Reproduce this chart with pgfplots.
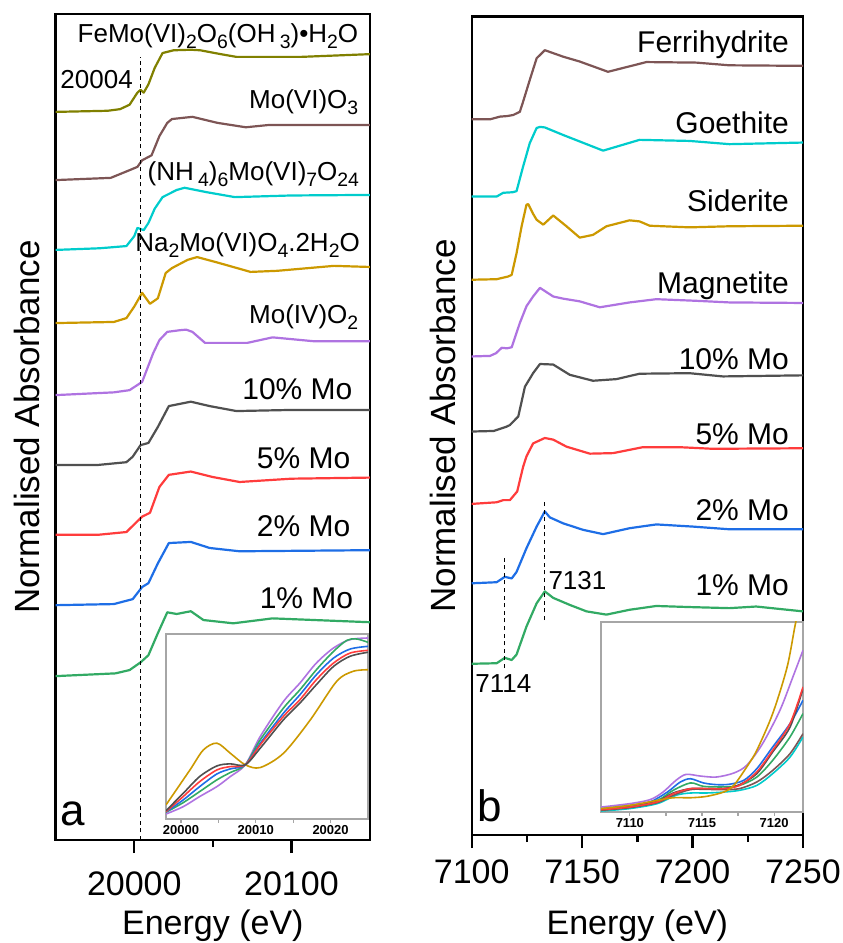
\documentclass[border=0pt]{standalone}
\usepackage{fontspec}
\setmainfont{Liberation Sans}
\usepackage{pgfplots}
\pgfplotsset{compat=1.18}
\definecolor{cOlive}{RGB}{128,128,0}
\definecolor{cBrown}{RGB}{125,85,85}
\definecolor{cCyan}{RGB}{0,204,204}
\definecolor{cGold}{RGB}{204,153,0}
\definecolor{cPurple}{RGB}{175,115,225}
\definecolor{cGrey}{RGB}{80,80,80}
\definecolor{cRed}{RGB}{255,60,60}
\definecolor{cBlue}{RGB}{30,110,230}
\definecolor{cGreen}{RGB}{50,170,100}
\newcommand{\s}[1]{\raisebox{-0.45ex}{\fontsize{9.7}{10}\selectfont #1}}
\newcommand{\lab}{\fontsize{15}{17}\selectfont}
\newcommand{\chem}{\fontsize{13}{15}\selectfont}
\pgfplotsset{
  mainax/.style={scale only axis, tick align=outside, xtick pos=bottom,
    ytick=\empty, axis line style={line width=1.2pt},
    major tick length=6.5pt, minor tick length=3.5pt,
    tick style={black, line width=1.2pt}, minor x tick num=1,
    scaled x ticks=false,
    /pgf/number format/assume math mode=true, /pgf/number format/1000 sep={},
    xlabel style={font=\fontsize{17}{20}\selectfont},
    ylabel style={font=\fontsize{17.5}{20}\selectfont}},
  cur/.style={line width=1.1pt, line join=round},
  inax/.style={scale only axis, tick align=outside, xtick pos=bottom,
    ytick=\empty, axis line style={line width=0.9pt, color=black!35},
    major tick length=2pt, minor tick length=2pt,
    tick style={black!35, line width=0.6pt}, minor x tick num=1,
    scaled x ticks=false,
    /pgf/number format/assume math mode=true, /pgf/number format/1000 sep={},
    xticklabel style={font=\fontsize{6.5}{7}\selectfont\bfseries, inner sep=1pt},
    axis background/.style={fill=white}},
  icur/.style={line width=0.8pt, smooth, tension=0.5},
  dsh/.style={black, line width=0.6pt, dash pattern=on 2pt off 1.8pt},
}
\begin{document}
\begin{tikzpicture}
% ===================== panel a =====================
\begin{axis}[mainax, at={(27.85pt,51.5pt)}, anchor=south west,
  width=157.15pt, height=413pt,
  xmin=19950, xmax=20150, ymin=0, ymax=15.02,
  xtick={20000,20100},
  xticklabel style={font=\fontsize{17}{20}\selectfont, anchor=base, yshift=-21pt},
  xlabel={Energy (eV)}, ylabel={Normalised Absorbance},
  every axis x label/.append style={at={(axis description cs:0.5,-0.1150)}, anchor=base},
  every axis y label/.append style={at={(axis description cs:-0.0916,0.5)}, anchor=center},
]
\addplot[cur, cOlive] table[y expr=\thisrowno{1}+13.24] {
19950 0
19983 0.02
19991 0.05
19997 0.13
20002 0.35
20004 0.40
20006 0.35
20009 0.50
20013 0.80
20018 1.07
20025 1.12
20036 1.13
20042 1.12
20055 1.05
20065 1.00
20106 1.00
20150 1.05
};
\addplot[cur, cBrown] table[y expr=\thisrowno{1}+12.0] {
19950 0
19985 0.04
19997 0.18
20002 0.24
20005 0.36
20011 0.45
20016 0.80
20021 1.04
20024 1.11
20037 1.15
20053 1.04
20071 0.96
20085 1.00
20150 1.00
};
\addplot[cur, cCyan] table[y expr=\thisrowno{1}+10.73] {
19950 0
19978 0.03
19995 0.07
20000 0.25
20002 0.40
20006 0.36
20009 0.49
20013 0.75
20018 0.96
20027 1.09
20032 1.13
20046 1.05
20064 0.96
20100 0.99
20150 1.00
};
\addplot[cur, cGold] table[y expr=\thisrowno{1}+9.4] {
19950 0
19987 0.02
19995 0.09
20000 0.30
20005 0.55
20010 0.35
20015 0.45
20020 0.91
20024 1.00
20034 1.15
20040 1.20
20053 1.10
20074 0.93
20091 0.95
20127 1.04
20150 1.02
};
\addplot[cur, cPurple] table[y expr=\thisrowno{1}+8.09] {
19950 0
19987 0.05
19997 0.09
20005 0.24
20012 0.76
20016 1.00
20021 1.15
20029 1.18
20033 1.19
20037 1.15
20045 0.95
20072 0.95
20088 1.05
20114 0.98
20150 0.98
};
\addplot[cur, cGrey] table[y expr=\thisrowno{1}+6.82] {
19950 0
19977 0.00
19995 0.05
19999 0.15
20004 0.36
20009 0.40
20015 0.69
20022 1.07
20036 1.15
20048 1.07
20065 0.98
20100 1.00
20150 1.00
};
\addplot[cur, cRed] table[y expr=\thisrowno{1}+5.55] {
19950 0
19977 0
19995 0.05
20005 0.33
20010 0.40
20016 0.87
20022 1.09
20036 1.15
20050 1.05
20067 0.96
20100 1.02
20150 1.04
};
\addplot[cur, cBlue] table[y expr=\thisrowno{1}+4.27] {
19950 0
19987 0.02
19999 0.11
20005 0.33
20009 0.40
20015 0.76
20022 1.13
20036 1.15
20048 1.04
20067 0.98
20150 1.00
};
\addplot[cur, cGreen] table[y expr=\thisrowno{1}+2.98] {
19950 0
19988 0.05
19997 0.11
20004 0.25
20009 0.38
20015 0.78
20021 1.16
20027 1.13
20036 1.18
20044 1.02
20063 0.96
20088 1.05
20150 0.98
};
\addplot[dsh] coordinates {(20004,0) (20004,14.24)};
\node[anchor=base east, font=\chem] at (axis cs:20147,14.51) {FeMo(VI)\s{2}O\s{6}(OH\,\s{3})•H\s{2}O};
\node[anchor=base east, font=\chem, inner sep=0pt] at (axis cs:19999.3,13.67) {20004};
\node[anchor=base east, font=\chem] at (axis cs:20147,13.30) {Mo(VI)O\s{3}};
\node[anchor=base east, font=\chem] at (axis cs:20147.5,12.0) {(NH\,\s{4})\s{6}Mo(VI)\s{7}O\s{24}};
\node[anchor=base east, font=\chem] at (axis cs:20148,10.71) {Na\s{2}Mo(VI)O\s{4}.2H\s{2}O};
\node[anchor=base east, font=\chem] at (axis cs:20147,9.39) {Mo(IV)O\s{2}};
\node[anchor=base east, font=\lab] at (axis cs:20143.3,8.01) {10\% Mo};
\node[anchor=base east, font=\lab] at (axis cs:20142,6.76) {5\% Mo};
\node[anchor=base east, font=\lab] at (axis cs:20142,5.51) {2\% Mo};
\node[anchor=base east, font=\lab] at (axis cs:20143.8,4.21) {1\% Mo};
\node[anchor=base west, font=\fontsize{22}{24}\selectfont, inner sep=0pt] at (axis cs:19952.7,0.27) {a};
\end{axis}
% inset a
\begin{axis}[inax, at={(83pt,62pt)}, anchor=south west,
  width=101pt, height=92.5pt,
  xmin=19998, xmax=20025, ymin=0, ymax=1.154,
  xtick={20000,20010,20020}]
\addplot[icur, cGold] table {
19998.0 0.088
20001.2 0.306
20003.0 0.431
20004.8 0.473
20006.6 0.410
20008.6 0.338
20010.6 0.321
20013.7 0.410
20017.3 0.619
20020.8 0.858
20023.0 0.921
20025.0 0.931
};
\addplot[icur, cPurple] table {
19998.0 0.031
20000.3 0.077
20002.5 0.140
20004.8 0.202
20006.6 0.265
20008.6 0.338
20010.6 0.515
20013.7 0.733
20015.9 0.848
20018.1 0.973
20020.4 1.067
20022.6 1.119
20025.0 1.129
};
\addplot[icur, cGreen] table {
19998.0 0.042
20000.3 0.102
20002.5 0.171
20004.8 0.244
20006.6 0.290
20008.6 0.338
20010.6 0.494
20013.7 0.692
20015.9 0.806
20018.1 0.931
20020.4 1.046
20022.2 1.115
20023.5 1.123
20025.0 1.102
};
\addplot[icur, cBlue] table {
19998.0 0.044
20000.3 0.119
20002.5 0.202
20004.8 0.281
20006.6 0.3125
20008.6 0.338
20010.6 0.473
20013.7 0.660
20015.9 0.775
20018.1 0.900
20020.4 1.004
20022.6 1.060
20025.0 1.077
};
\addplot[icur, cRed] table {
19998.0 0.046
20000.3 0.140
20002.5 0.233
20004.8 0.306
20006.6 0.327
20008.6 0.338
20010.6 0.463
20013.7 0.640
20015.9 0.744
20018.1 0.869
20020.4 0.973
20022.6 1.035
20025.0 1.052
};
\addplot[icur, cGrey] table {
19998.0 0.052
20000.3 0.160
20002.5 0.265
20004.8 0.331
20006.6 0.344
20008.6 0.338
20010.6 0.442
20013.7 0.619
20015.9 0.723
20018.1 0.838
20020.4 0.952
20022.6 1.015
20025.0 1.040
};
\end{axis}
% ===================== panel b =====================
\begin{axis}[mainax, at={(235.85pt,54pt)}, anchor=south west,
  width=165.65pt, height=409.15pt,
  xmin=7100, xmax=7250, ymin=0, ymax=15.15,
  xtick={7100,7150,7200,7250},
  xticklabel style={font=\fontsize{17}{20}\selectfont, anchor=base, yshift=-17.5pt},
  xlabel={Energy (eV)}, ylabel={Normalised Absorbance},
  every axis x label/.append style={at={(axis description cs:0.5,-0.1222)}, anchor=base},
  every axis y label/.append style={at={(axis description cs:-0.0866,0.5)}, anchor=center},
]
\addplot[cur, cBrown] table[y expr=\thisrowno{1}+13.25] {
7100 0
7108.3 0
7112.8 0.05
7116 0.06
7118.8 0.08
7121.8 0.14
7123.3 0.33
7126.3 0.73
7129.4 1.13
7133.1 1.28
7141.4 1.16
7148.9 1.07
7161.7 0.88
7179.1 1.06
7201.7 1.05
7216.7 1.00
7250 0.99
};
\addplot[cur, cCyan] table[y expr=\thisrowno{1}+11.82] {
7100 0
7111.3 0
7114.3 0.07
7118.5 0.08
7120.3 0.10
7123.3 0.56
7126.3 0.99
7129.4 1.27
7130.9 1.29
7133.1 1.28
7141.4 1.14
7148.9 1.02
7159.5 0.85
7176 1.05
7198.6 1.03
7216.7 0.97
7250 1.00
};
\addplot[cur, cGold] table[y expr=\thisrowno{1}+10.28] {
7100 0
7111.3 0.01
7116.5 0.06
7118.1 0.09
7120.3 0.49
7122.6 0.99
7124.8 1.39
7125.6 1.40
7127.8 1.22
7129.4 1.11
7132.4 1.02
7136.9 1.19
7142.9 0.99
7148.9 0.78
7154.9 0.83
7161 0.99
7171.5 1.10
7176 1.08
7180.6 1.00
7198.6 0.97
7216.7 0.99
7250 1.00
};
\addplot[cur, cPurple] table[y expr=\thisrowno{1}+8.86] {
7100 0
7108.3 0.01
7111 0.06
7113.6 0.16
7116 0.15
7118.1 0.17
7121.8 0.62
7124.8 0.93
7127.8 1.11
7130.9 1.27
7136.9 1.11
7141.4 1.07
7148.9 1.02
7158 0.91
7171.5 1.00
7183.6 1.06
7201.7 1.03
7216.7 1.00
7250 0.99
};
\addplot[cur, cGrey] table[y expr=\thisrowno{1}+7.47] {
7100 0
7110 0.01
7113.6 0.06
7115.8 0.09
7117.3 0.12
7121.1 0.28
7124.1 0.83
7127.8 1.08
7130.9 1.25
7136.9 1.24
7144.4 1.05
7154.9 0.94
7165.5 0.97
7176 1.07
7198.6 1.08
7213.7 1.02
7250 1.04
};
\addplot[cur, cRed] table[y expr=\thisrowno{1}+6.13] {
7100 0
7111.3 0.03
7114.3 0.07
7117.3 0.07
7120.6 0.23
7123.3 0.69
7124.8 0.88
7127.8 1.12
7133.1 1.22
7136.9 1.19
7142.9 1.06
7153.5 0.93
7164 0.94
7177.5 1.05
7194.1 1.05
7209.2 1.02
7250 1.03
};
\addplot[cur, cBlue] table[y expr=\thisrowno{1}+4.66] {
7100 0
7111.3 0.02
7115 0.12
7118.1 0.09
7120.3 0.21
7124.8 0.65
7129.4 1.05
7133.1 1.33
7135.4 1.22
7141.4 1.11
7150.4 0.99
7159.5 0.91
7171.5 1.02
7183.6 1.09
7200.1 1.05
7216.7 1.00
7250 1.00
};
\addplot[cur, cGreen] table[y expr=\thisrowno{1}+3.17] {
7100 0
7111.3 0.01
7115 0.11
7118.1 0.07
7120.3 0.17
7124.8 0.69
7129.4 1.12
7133.1 1.34
7136.9 1.22
7144.4 1.09
7152 0.97
7161 0.91
7171.5 1.00
7183.6 1.07
7198.6 1.05
7216.7 1.03
7228.8 1.06
7250 0.97
};
\addplot[dsh] coordinates {(7115,3.09) (7115,5.13)};
\addplot[dsh] coordinates {(7133,3.98) (7133,6.20)};
\node[anchor=base east, font=\lab] at (axis cs:7246.8,14.49) {Ferrihydrite};
\node[anchor=base east, font=\lab] at (axis cs:7246.8,12.99) {Goethite};
\node[anchor=base east, font=\lab] at (axis cs:7246.8,11.54) {Siderite};
\node[anchor=base east, font=\lab] at (axis cs:7246.8,10.03) {Magnetite};
\node[anchor=base east, font=\lab] at (axis cs:7246.8,8.61) {10\% Mo};
\node[anchor=base east, font=\lab] at (axis cs:7246.8,7.23) {5\% Mo};
\node[anchor=base east, font=\lab] at (axis cs:7246.8,5.82) {2\% Mo};
\node[anchor=base east, font=\lab] at (axis cs:7246.8,4.44) {1\% Mo};
\node[anchor=base west, font=\chem, inner sep=0pt] at (axis cs:7134.6,4.55) {7131};
\node[anchor=base west, font=\chem, inner sep=0pt] at (axis cs:7101.5,2.64) {7114};
\node[anchor=base west, font=\fontsize{22}{24}\selectfont, inner sep=0pt] at (axis cs:7102.5,0.25) {b};
\end{axis}
% inset b
\begin{axis}[inax, at={(300.5pt,65.5pt)}, anchor=south west,
  width=101pt, height=95pt,
  xmin=7108, xmax=7122, ymin=0, ymax=1,
  xtick={7110,7115,7120}]
\addplot[icur, cCyan] table {
7108.0 0.005
7110.0 0.018
7111.9 0.044
7113.2 0.088
7114.2 0.100
7115.3 0.100
7116.5 0.105
7117.6 0.114
7118.8 0.140
7119.9 0.202
7121.1 0.289
7122.0 0.395
};
\addplot[icur, cBrown] table {
7108.0 0.009
7110.0 0.023
7111.9 0.049
7113.0 0.088
7114.2 0.118
7115.3 0.119
7116.5 0.118
7117.6 0.123
7118.8 0.158
7119.9 0.219
7121.1 0.307
7122.0 0.412
};
\addplot[icur, cGreen] table {
7108.0 0.012
7110.0 0.030
7111.9 0.061
7113.0 0.114
7114.2 0.153
7115.1 0.135
7116.5 0.132
7117.6 0.140
7118.8 0.184
7119.9 0.272
7121.1 0.395
7122.0 0.518
};
\addplot[icur, cBlue] table {
7108.0 0.018
7110.0 0.035
7111.4 0.053
7112.6 0.105
7113.5 0.158
7114.2 0.175
7115.1 0.153
7116.0 0.144
7116.9 0.146
7117.9 0.167
7118.8 0.228
7119.9 0.342
7121.1 0.465
7122.0 0.588
};
\addplot[icur, cGrey] table {
7108.0 0.012
7110.0 0.026
7111.9 0.056
7113.0 0.100
7114.2 0.123
7115.3 0.123
7116.5 0.123
7117.6 0.144
7118.8 0.202
7119.9 0.316
7121.1 0.447
7122.0 0.649
};
\addplot[icur, cRed] table {
7108.0 0.012
7110.0 0.026
7111.9 0.053
7113.0 0.096
7114.2 0.123
7115.3 0.123
7116.5 0.123
7117.6 0.140
7118.8 0.211
7119.9 0.325
7121.1 0.465
7122.0 0.658
};
\addplot[icur, cPurple] table {
7108.0 0.026
7110.0 0.044
7111.4 0.065
7112.3 0.105
7113.2 0.167
7113.9 0.198
7114.9 0.189
7116.0 0.184
7117.2 0.205
7118.1 0.246
7119.2 0.360
7120.4 0.535
7121.3 0.711
7122.0 0.851
};
\addplot[icur, cGold] table {
7108.0 0.018
7110.0 0.035
7111.9 0.061
7113.0 0.075
7114.2 0.075
7115.3 0.082
7116.5 0.105
7117.2 0.140
7118.1 0.237
7118.8 0.325
7119.9 0.518
7120.9 0.763
7121.5 1.000
7122.0 1.150
};
\end{axis}
\pgfresetboundingbox
\useasboundingbox (0,0) rectangle (421pt,471.5pt);
\end{tikzpicture}
\end{document}
